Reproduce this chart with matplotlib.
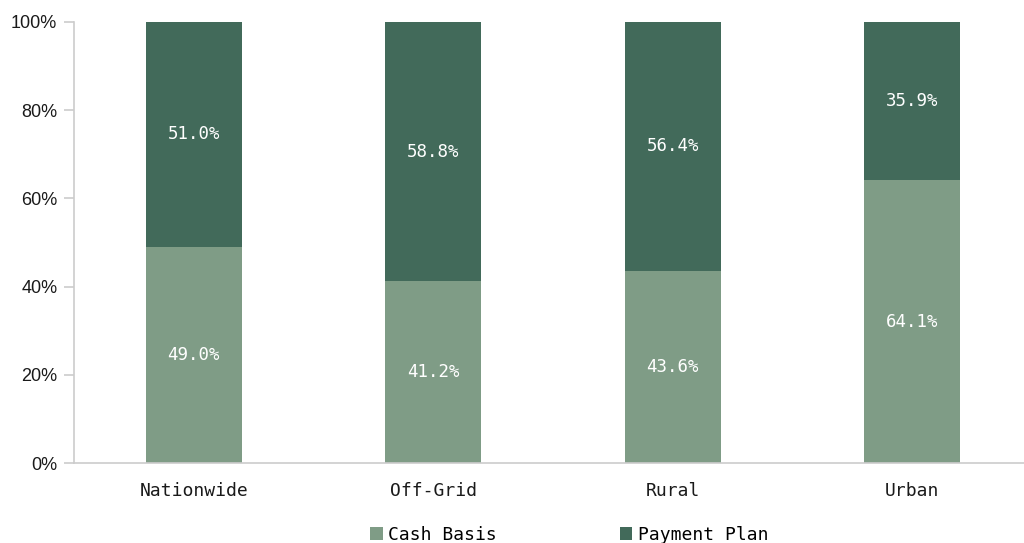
import matplotlib

matplotlib.use("Agg")
import matplotlib.pyplot as plt
from matplotlib.patches import Patch
from matplotlib.ticker import PercentFormatter

categories = ["Nationwide", "Off-Grid", "Rural", "Urban"]
cash_basis = [49.0, 41.2, 43.6, 64.1]
payment_plan = [51.0, 58.8, 56.4, 35.9]
series_names = ["Cash Basis", "Payment Plan"]

COLORS = {
    "cash": "#7f9c86",
    "plan": "#426a5a",
    "axis": "#cccccc",
    "text": "#1a1a1a",
}

plt.rcParams["font.family"] = ["DejaVu Sans Mono"]

fig = plt.figure(figsize=(10.24, 5.43), dpi=100)
ax = fig.add_axes([74 / 1024, 80 / 543, 958 / 1024, 441 / 543])

x = range(len(categories))
ax.bar(x, cash_basis, width=0.4, color=COLORS["cash"], linewidth=0)
ax.bar(x, payment_plan, width=0.4, bottom=cash_basis, color=COLORS["plan"], linewidth=0)

# Value labels centred in each segment
for i, (c, p) in enumerate(zip(cash_basis, payment_plan)):
    ax.text(i, c / 2, f"{c:.1f}%", ha="center", va="center", color="white", fontsize=12.5)
    ax.text(i, c + p / 2, f"{p:.1f}%", ha="center", va="center", color="white", fontsize=12.5)

ax.set_xlim(-0.5, 3.5)
ax.set_ylim(0, 100)
ax.set_yticks([0, 20, 40, 60, 80, 100])
ax.yaxis.set_major_formatter(PercentFormatter(decimals=0))
ax.set_xticks(list(x))
ax.set_xticklabels(categories)

for side in ("top", "right"):
    ax.spines[side].set_visible(False)
for side in ("left", "bottom"):
    ax.spines[side].set_color(COLORS["axis"])
    ax.spines[side].set_linewidth(1.2)
ax.tick_params(axis="y", colors=COLORS["axis"], labelcolor=COLORS["text"], length=7,
               width=1.2, labelsize=13, pad=5)
for lbl in ax.get_yticklabels():
    lbl.set_family(["Liberation Sans"])
ax.tick_params(axis="x", length=0, labelcolor=COLORS["text"], labelsize=13, pad=14)

handles = [Patch(facecolor=COLORS["cash"], label=series_names[0]),
           Patch(facecolor=COLORS["plan"], label=series_names[1])]
fig.legend(handles=handles, loc="center", bbox_to_anchor=(569 / 1024, 8 / 543), ncol=2,
           frameon=False, fontsize=13, handlelength=0.7, handleheight=0.7,
           handletextpad=0.3, columnspacing=6.8, borderpad=0)

fig.savefig("out.png", dpi=100, facecolor="white")
